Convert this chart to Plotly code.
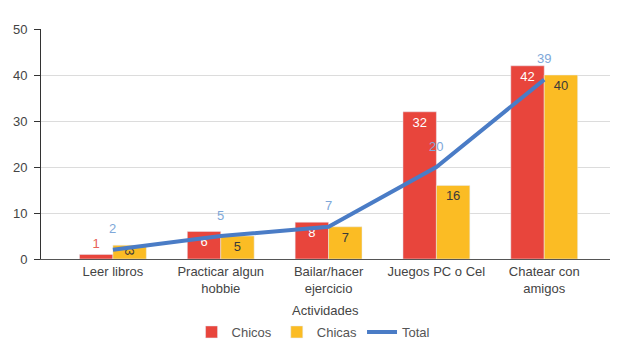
import plotly.graph_objects as go

categorias = ["Leer libros", "Practicar algun<br>hobbie", "Bailar/hacer<br>ejercicio", "Juegos PC o Cel", "Chatear con<br>amigos"]
chicos = [1, 6, 8, 32, 42]
chicas = [3, 5, 7, 16, 40]
total = [2, 5, 7, 20, 39]
y_ticks = [0, 10, 20, 30, 40, 50]

RED = "#e8453c"
YEL = "#fbbc24"
BLUE = "#4a7cc6"
LBLUE = "#7ea7d9"
FONT = "Liberation Sans, Arial, sans-serif"
FS = 13

xs = list(range(len(categorias)))

fig = go.Figure()
fig.add_trace(go.Bar(
    x=xs, y=chicos, name="Chicos", marker_color=RED,
    text=[str(v) for v in chicos],
    textposition=["outside"] + ["inside"] * 4,
    insidetextanchor="end",
    textfont=dict(color=["#e86258"] + ["white"] * 4, size=FS, family=FONT),
    constraintext="none", cliponaxis=False,
))
fig.add_trace(go.Bar(
    x=xs, y=chicas, name="Chicas", marker_color=YEL,
    text=[str(v) for v in chicas],
    textposition="inside", insidetextanchor="end",
    textfont=dict(color="#3a3a3a", size=FS, family=FONT),
    constraintext="none", cliponaxis=False,
))
fig.add_trace(go.Scatter(
    x=xs, y=total, name="Total", mode="lines",
    line=dict(color=BLUE, width=4),
))
for x, v in zip(xs, total):
    fig.add_annotation(x=x, y=v, text=str(v), showarrow=False, yshift=21,
                       font=dict(color=LBLUE, size=FS, family=FONT))

# plot area: 29..259 px tall (230 px)
fig.add_annotation(x=0.5, y=-(310 - 259) / 230, xref="paper", yref="paper", text="Actividades",
                   showarrow=False, font=dict(size=FS, color="#444", family=FONT),
                   xanchor="center", yanchor="middle")

fig.update_layout(
    width=619, height=344,
    margin=dict(l=41, r=9, t=29, b=85),
    paper_bgcolor="white", plot_bgcolor="white",
    barmode="group", bargap=0.38, bargroupgap=0,
    font=dict(family=FONT, size=FS, color="#444"),
    showlegend=True,
    legend=dict(orientation="h", x=0.479, xanchor="center", xref="paper",
                y=(344 - 332) / 344, yanchor="middle", yref="container",
                itemwidth=30,
                font=dict(size=FS, color="#555"), traceorder="normal"),
)
fig.update_xaxes(
    range=[-0.667, 4.61], tickmode="array", tickvals=xs, ticktext=categorias,
    showline=True, linecolor="#555", linewidth=1, showgrid=False, ticks="",
    tickfont=dict(size=FS, color="#444"), automargin=False,
)
fig.update_yaxes(
    range=[0, 50], tickvals=y_ticks, showline=True, linecolor="#333", linewidth=1,
    ticks="outside", ticklen=6, tickcolor="#333", ticklabelstandoff=4,
    showgrid=True, gridcolor="#dcdcdc", gridwidth=1, zeroline=False,
    tickfont=dict(size=FS, color="#444"), automargin=False,
)
fig.write_html("out.html")
